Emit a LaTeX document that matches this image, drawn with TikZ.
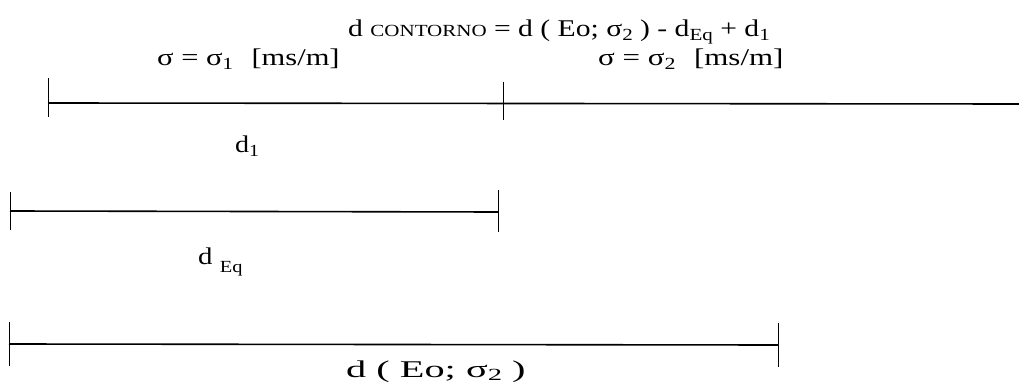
\documentclass[tikz,border=0pt]{standalone}
\usepackage{graphicx}
\usepackage{fontspec}
\setmainfont{Liberation Serif}
\newcommand\lowsub[1]{\raisebox{-0.3ex}{\fontsize{17}{17}\selectfont #1}}
\newcommand\deepsub[1]{\raisebox{-9pt}{\fontsize{17}{17}\selectfont #1}}
\newcommand\capsub[1]{\raisebox{0pt}{\fontsize{17}{17}\selectfont #1}}
\newcommand\wide[2]{\scalebox{#1}[1]{#2}}
\begin{document}
\begin{tikzpicture}[x=1pt,y=-1pt,
  lbl/.style={inner sep=0pt,anchor=base west,font=\fontsize{24}{28}\selectfont},
  dimline/.style={line width=1.6pt,black},
  tick/.style={line width=1pt,black}]
\useasboundingbox (0,0) rectangle (1019,387);
% texts
\node[lbl] (formula) at (348,37) {\wide{1.235}{d \capsub{CONTORNO} = d ( Eo; σ\lowsub{2} ) - d\lowsub{Eq} + d\lowsub{1}}};
\node[lbl] (s1) at (157,66) {\wide{1.27}{σ = σ\lowsub{1}\hspace{0.6em}[ms/m]}};
\node[lbl] (s2) at (598,66) {\wide{1.29}{σ = σ\lowsub{2}\hspace{0.6em}[ms/m]}};
\node[lbl] (d1) at (235,153) {\wide{1.17}{d\lowsub{1}}};
\node[lbl] (deq) at (198,264) {\wide{1.2}{d \deepsub{Eq}}};
\node[lbl] (deo) at (346,377) {\wide{1.68}{d ( Eo; σ\lowsub{2} )}};
% line 1
\coordinate (a1) at (48,103);
\coordinate (m1) at (503,104);
\coordinate (e1) at (1019,104);
\draw[dimline] (a1) -- (e1);
\draw[tick] ([yshift=25pt]a1) -- ([yshift=-14pt]a1);
\draw[tick] ([yshift=22pt]m1) -- ([yshift=-16pt]m1);
% line 2
\coordinate (a2) at (10,211);
\coordinate (b2) at (498,212);
\draw[dimline] (a2) -- (b2);
\draw[tick] ([yshift=19pt]a2) -- ([yshift=-19pt]a2);
\draw[tick] ([yshift=22pt]b2) -- ([yshift=-20pt]b2);
% line 3
\coordinate (a3) at (9,344);
\coordinate (b3) at (778,345);
\draw[dimline] (a3) -- (b3);
\draw[tick] ([yshift=22pt]a3) -- ([yshift=-22pt]a3);
\draw[tick] ([yshift=22pt]b3) -- ([yshift=-22pt]b3);
\end{tikzpicture}
\end{document}
